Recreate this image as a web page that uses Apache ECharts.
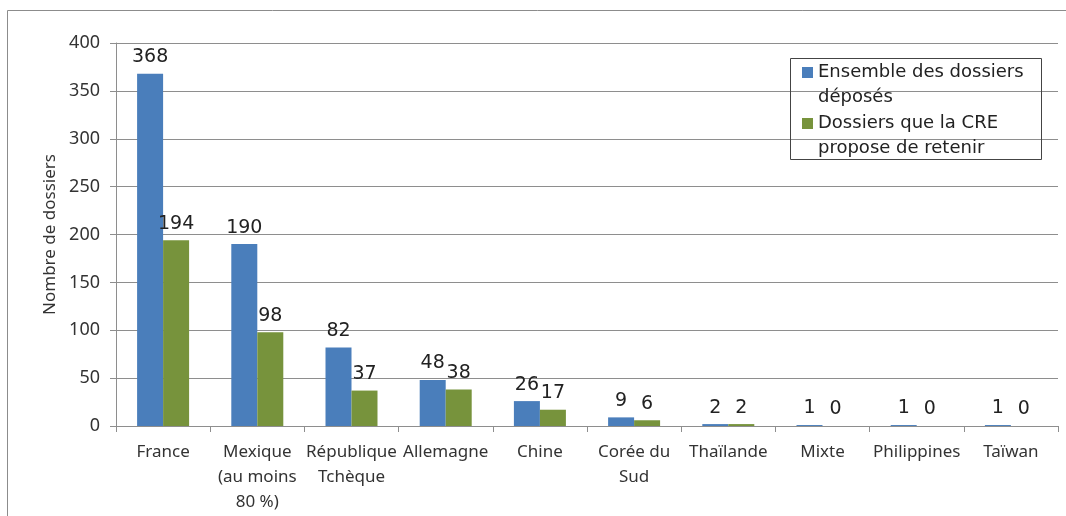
<!DOCTYPE html>
<html>
<head>
<meta charset="utf-8">
<script src="https://cdn.jsdelivr.net/npm/echarts@6/dist/echarts.min.js"></script>
<style>
  html, body { margin: 0; padding: 0; background: #fff; }
  #chart { width: 1066px; height: 516px; }
</style>
</head>
<body>
<div id="chart"></div>
<script>
// Pays d'origine des dossiers
const categories = [
  'France', 'Mexique\n(au moins\n80 %)', 'République\nTchèque', 'Allemagne', 'Chine',
  'Corée du\nSud', 'Thaïlande', 'Mixte', 'Philippines', 'Taïwan'
];
const seriesNames = ['Ensemble des dossiers\ndéposés', 'Dossiers que la CRE\npropose de retenir'];
const deposes = [368, 190, 82, 48, 26, 9, 2, 1, 1, 1];
const retenus = [194, 98, 37, 38, 17, 6, 2, 0, 0, 0];
const yTicks = { min: 0, max: 400, interval: 50 };

const blue = '#4a7ebb';
const green = '#77933c';
const gridGray = '#8e8e8e';
const calibriLike = '"Noto Sans", sans-serif';
const arialLike = '"DejaVu Sans", sans-serif';

// Square legend marker sitting level with the first line of a two-line label
const legendIcon = 'path://M0,0M0,7h11v11h-11zM11,50';

const chart = echarts.init(document.getElementById('chart'), null, { renderer: 'canvas' });

const labelStyle = {
  show: true,
  position: 'top',
  distance: 7,
  fontFamily: arialLike,
  fontSize: 19,
  color: '#222'
};

chart.setOption({
  backgroundColor: '#fff',
  animation: false,
  graphic: [
    {
      type: 'rect',
      shape: { x: 7.5, y: 10.5, width: 1100, height: 600 },
      style: { fill: 'none', stroke: '#8c8c8c', lineWidth: 1 },
      silent: true
    },
    {
      type: 'rect',
      shape: { x: 790.5, y: 58.5, width: 251, height: 101 },
      style: { fill: 'none', stroke: '#444', lineWidth: 1 },
      silent: true,
      z: 10
    }
  ],
  grid: { left: 116, right: 8, top: 43, bottom: 90, containLabel: false },
  legend: {
    orient: 'vertical',
    left: 802,
    top: 60,
    padding: 0,
    itemGap: 1,
    itemWidth: 11,
    itemHeight: 50,
    icon: legendIcon,
    textStyle: { fontFamily: arialLike, fontSize: 18, lineHeight: 25, color: '#222' },
    data: seriesNames
  },
  xAxis: {
    type: 'category',
    data: categories,
    axisLine: { lineStyle: { color: gridGray, width: 1 } },
    axisTick: { show: true, length: 6, lineStyle: { color: gridGray } },
    axisLabel: {
      interval: 0,
      margin: 14,
      fontFamily: calibriLike,
      fontSize: 17,
      lineHeight: 25,
      color: '#333'
    }
  },
  yAxis: {
    type: 'value',
    min: yTicks.min,
    max: yTicks.max,
    interval: yTicks.interval,
    name: 'Nombre de dossiers',
    nameLocation: 'middle',
    nameRotate: 90,
    nameGap: 55,
    nameTextStyle: { fontFamily: calibriLike, fontSize: 17, color: '#333' },
    axisLine: { show: true, lineStyle: { color: gridGray, width: 1 } },
    axisTick: { show: true, length: 6, lineStyle: { color: gridGray } },
    axisLabel: { margin: 16, fontFamily: calibriLike, fontSize: 18, color: '#333' },
    splitLine: { show: true, lineStyle: { color: gridGray, width: 1 } }
  },
  series: [
    {
      name: seriesNames[0],
      type: 'bar',
      data: deposes,
      barWidth: 26,
      barGap: '0%',
      itemStyle: { color: blue },
      label: labelStyle
    },
    {
      name: seriesNames[1],
      type: 'bar',
      data: retenus,
      barWidth: 26,
      itemStyle: { color: green },
      label: labelStyle
    }
  ]
});
</script>
</body>
</html>
